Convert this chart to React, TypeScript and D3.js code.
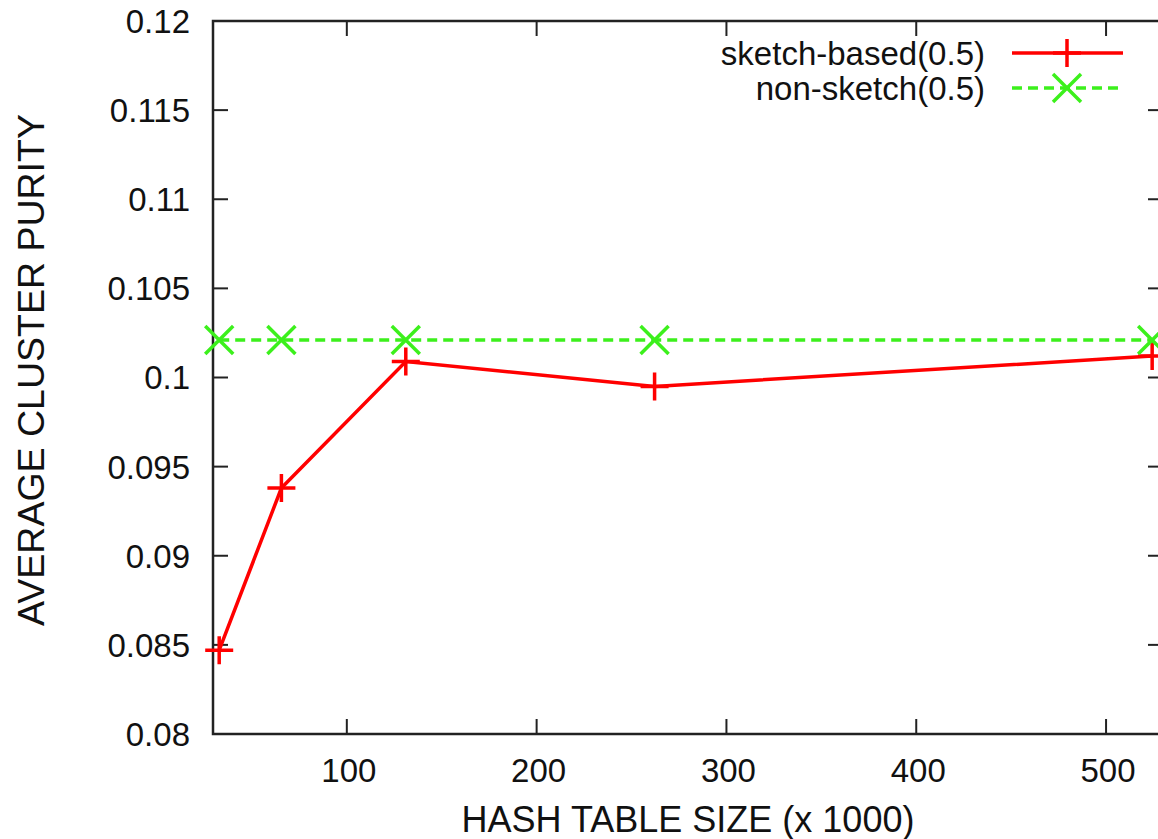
import { useEffect, useRef } from 'react';
import * as d3 from 'd3';

// hash table sizes (x 1000)
const tableSizes = [32.768, 65.536, 131.072, 262.144, 524.288];
const sketchBased = [0.0847, 0.0938, 0.1009, 0.0995, 0.1012];
const nonSketch = [0.1021, 0.1021, 0.1021, 0.1021, 0.1021];
const xTicks = [100, 200, 300, 400, 500];
const yTicks = [0.08, 0.085, 0.09, 0.095, 0.1, 0.105, 0.11, 0.115, 0.12];
const seriesNames = ['sketch-based(0.5)', 'non-sketch(0.5)'];

const WIDTH = 1158;
const HEIGHT = 839;
const FONT = '"Liberation Sans", Arial, Helvetica, sans-serif';
const RED = '#ff0000';
const GREEN = '#3cf01c';

const App = () => {
	const svgRef = useRef<SVGSVGElement>(null);

	useEffect(() => {
		if (!svgRef.current) return;
		const svg = d3.select(svgRef.current);
		svg.selectAll('*').remove();

		const left = 213;
		const right = 1163;
		const top = 21;
		const bottom = 734;

		const x = d3.scaleLinear().domain([29.5, 530]).range([left, right]);
		const y = d3.scaleLinear().domain([0.08, 0.12]).range([bottom, top]);

		const tickLen = 15;
		const axisColor = '#222';

		// ticks on all four sides, pointing inwards
		const ticks = svg.append('g').attr('stroke', axisColor).attr('stroke-width', 2);
		xTicks.forEach((t) => {
			ticks.append('line').attr('x1', x(t)).attr('x2', x(t)).attr('y1', bottom).attr('y2', bottom - tickLen);
			ticks.append('line').attr('x1', x(t)).attr('x2', x(t)).attr('y1', top).attr('y2', top + tickLen);
		});
		yTicks.forEach((t) => {
			ticks.append('line').attr('x1', left).attr('x2', left + tickLen).attr('y1', y(t)).attr('y2', y(t));
			ticks.append('line').attr('x1', right).attr('x2', right - tickLen).attr('y1', y(t)).attr('y2', y(t));
		});

		svg.append('rect')
			.attr('x', left)
			.attr('y', top)
			.attr('width', right - left)
			.attr('height', bottom - top)
			.attr('fill', 'none')
			.attr('stroke', axisColor)
			.attr('stroke-width', 2.5);

		// tick labels
		const labels = svg.append('g').style('font-family', FONT).style('font-size', '33px').attr('fill', '#111');
		xTicks.forEach((t) => {
			labels.append('text').attr('x', x(t) + 2).attr('y', 782).attr('text-anchor', 'middle').text(t);
		});
		yTicks.forEach((t) => {
			labels.append('text')
				.attr('x', 190)
				.attr('y', y(t))
				.attr('dy', '0.36em')
				.attr('text-anchor', 'end')
				.text(d3.format('')(+t.toFixed(3)));
		});

		// axis titles
		svg.append('text')
			.attr('x', 688)
			.attr('y', 832)
			.attr('text-anchor', 'middle')
			.style('font-family', FONT)
			.style('font-size', '36px')
			.attr('fill', '#111')
			.text('HASH TABLE SIZE (x 1000)');
		svg.append('text')
			.attr('transform', `translate(44, ${(110 + 630) / 2}) rotate(-90)`)
			.attr('text-anchor', 'middle')
			.style('font-family', FONT)
			.style('font-size', '37.5px')
			.attr('fill', '#111')
			.text('AVERAGE CLUSTER PURITY');

		const plus = (g: d3.Selection<SVGGElement, unknown, null, undefined>, cx: number, cy: number) => {
			const s = 14;
			g.append('path')
				.attr('d', `M${cx - s},${cy}H${cx + s}M${cx},${cy - s}V${cy + s}`)
				.attr('stroke', RED)
				.attr('stroke-width', 3.5)
				.attr('fill', 'none');
		};
		const cross = (g: d3.Selection<SVGGElement, unknown, null, undefined>, cx: number, cy: number) => {
			const s = 14;
			g.append('path')
				.attr('d', `M${cx - s},${cy - s}L${cx + s},${cy + s}M${cx - s},${cy + s}L${cx + s},${cy - s}`)
				.attr('stroke', GREEN)
				.attr('stroke-width', 3.5)
				.attr('fill', 'none');
		};

		const line = d3
			.line<number>()
			.x((_, i) => x(tableSizes[i]))
			.y((d) => y(d));

		const plot = svg.append('g');
		plot.append('path')
			.datum(sketchBased)
			.attr('d', line)
			.attr('fill', 'none')
			.attr('stroke', RED)
			.attr('stroke-width', 3.5);
		plot.append('path')
			.datum(nonSketch)
			.attr('d', line)
			.attr('fill', 'none')
			.attr('stroke', GREEN)
			.attr('stroke-width', 3.5)
			.attr('stroke-dasharray', '10,6');

		sketchBased.forEach((v, i) => plus(plot, x(tableSizes[i]), y(v)));
		nonSketch.forEach((v, i) => cross(plot, x(tableSizes[i]), y(v)));

		// legend
		const legend = svg.append('g');
		const rows = [53, 88];
		seriesNames.forEach((name, i) => {
			legend.append('text')
				.attr('x', 985)
				.attr('y', rows[i])
				.attr('dy', '0.36em')
				.attr('text-anchor', 'end')
				.style('font-family', FONT)
				.style('font-size', '33px')
				.attr('fill', '#111')
				.text(name);
			legend.append('line')
				.attr('x1', 1012)
				.attr('x2', 1123)
				.attr('y1', rows[i])
				.attr('y2', rows[i])
				.attr('stroke', i === 0 ? RED : GREEN)
				.attr('stroke-width', 3.5)
				.attr('stroke-dasharray', i === 0 ? null : '10,6');
		});
		plus(legend, 1067, rows[0]);
		cross(legend, 1067, rows[1]);
	}, []);

	return (
		<svg
			ref={svgRef}
			width={WIDTH}
			height={HEIGHT}
			style={{ position: 'absolute', left: 0, top: 0, background: '#fff', overflow: 'hidden' }}
		></svg>
	);
};

export default App;
